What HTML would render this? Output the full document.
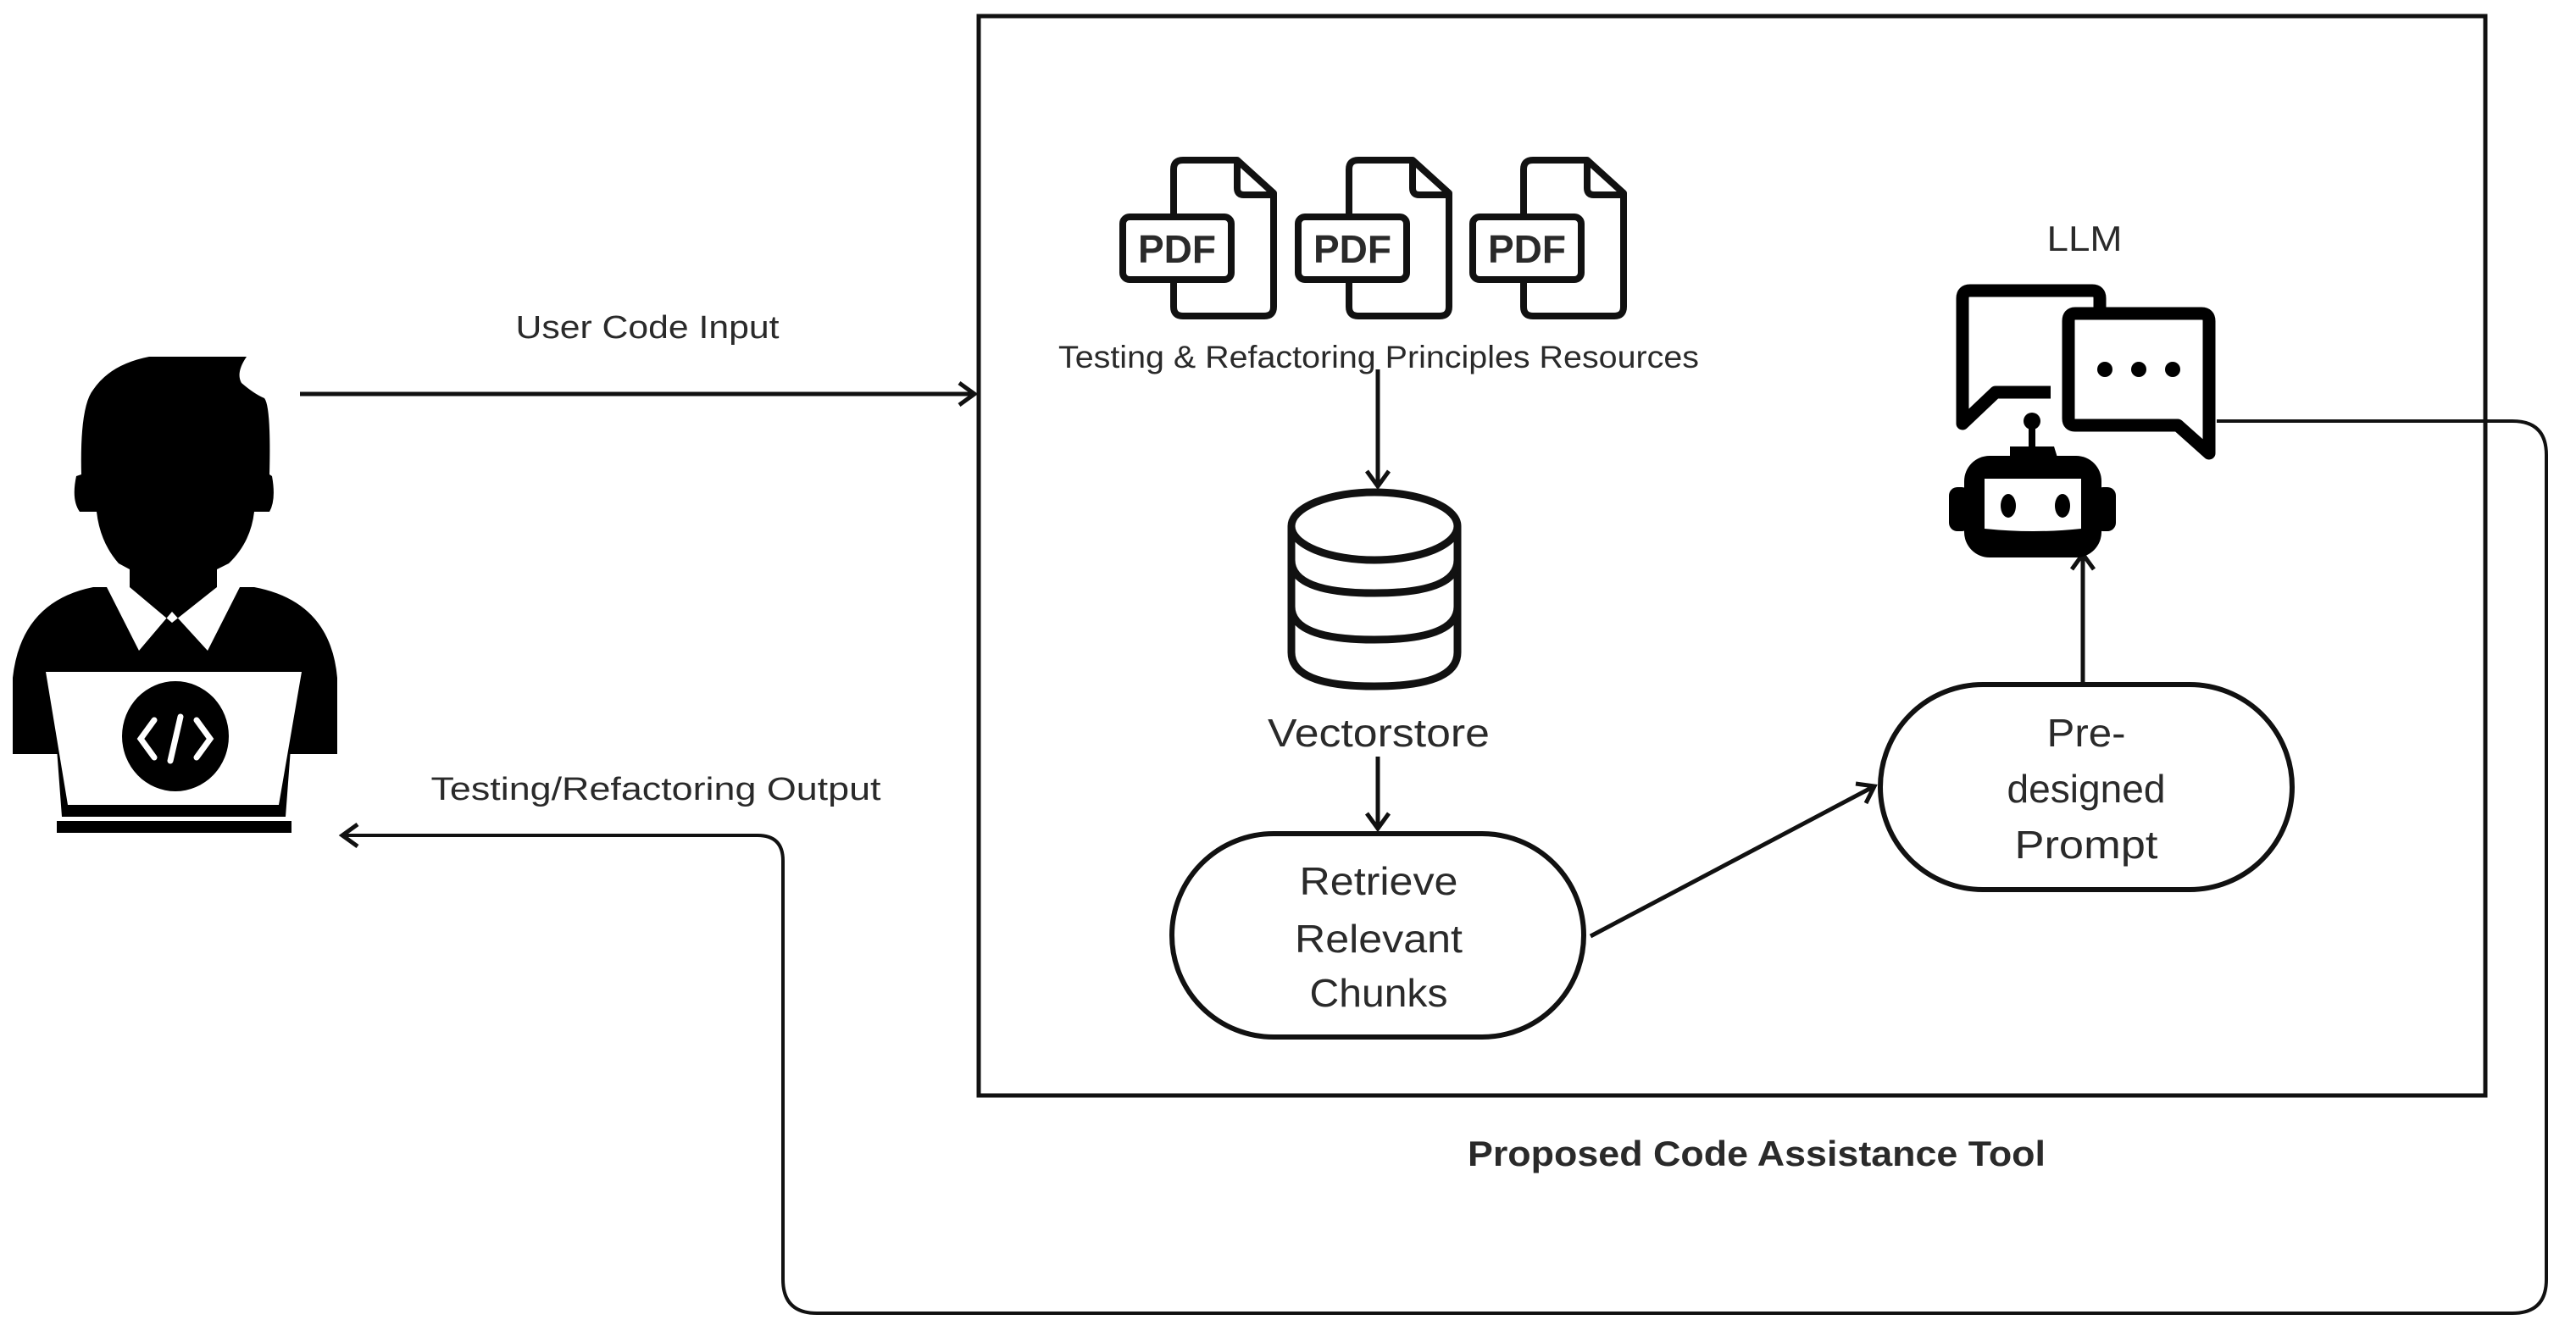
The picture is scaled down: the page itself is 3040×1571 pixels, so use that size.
<!DOCTYPE html>
<html><head><meta charset="utf-8"><style>
html,body{margin:0;padding:0;background:#fff;}
svg{display:block;}
text{font-family:"Liberation Sans",sans-serif;fill:#2a2a2a;}
</style></head><body>
<svg width="3040" height="1571" viewBox="0 0 3040 1571" xmlns="http://www.w3.org/2000/svg">
<rect x="1155" y="19" width="1778" height="1274" fill="none" stroke="#111" stroke-width="5"/>

<!-- person -->
<g fill="#000">
<path d="M176 421 L291 421 Q278 440 285 452 Q300 465 312 470 Q320 480 318 560 L321 562 Q326 590 318 604 L300 604 Q296 640 270 665 L256 672 L256 693 L153 693 L153 672 L140 665 Q118 640 114 604 L94 604 Q84 590 90 562 L96 560 Q94 480 110 460 Q130 430 176 421Z"/>
<path d="M110 693 L300 693 Q390 710 398 800 L398 890 L15 890 L15 800 Q25 710 110 693Z"/>
</g>
<path d="M126 693 L164 768 L203 722 L245 768 L283 693 L256 693 L203 735 L153 693Z" fill="#fff"/>
<path d="M60 790 L350 790 L337 964 L73 964Z" fill="#000"/>
<path d="M54 793 L356 793 L329 950 L80 950Z" fill="#fff"/>
<rect x="67" y="969" width="277" height="14" fill="#000"/>
<ellipse cx="207" cy="869" rx="63" ry="65" fill="#000"/>
<g stroke="#fff" stroke-width="7" fill="none" stroke-linecap="round">
<path d="M182 850 L166 872 L182 894"/><path d="M232 850 L248 872 L232 894"/><path d="M213 846 L201 898"/>
</g>

<text x="764" y="399" font-size="38" text-anchor="middle" textLength="311" lengthAdjust="spacingAndGlyphs">User Code Input</text>
<line x1="354" y1="465" x2="1148" y2="465" stroke="#111" stroke-width="5"/>
<path d="M1132 452 L1150 465 L1132 478" fill="none" stroke="#111" stroke-width="5"/>

<text x="774" y="944" font-size="38" text-anchor="middle" textLength="531" lengthAdjust="spacingAndGlyphs">Testing/Refactoring Output</text>
<path d="M2616 497 L2965 497 Q3005 497 3005 537 L3005 1510 Q3005 1550 2965 1550 L964 1550 Q924 1550 924 1510 L924 1016 Q924 986 894 986 L406 986" fill="none" stroke="#111" stroke-width="4"/>
<path d="M422 973 L404 986 L422 999" fill="none" stroke="#111" stroke-width="5"/>

<text x="2073" y="1376" font-size="42" font-weight="bold" text-anchor="middle" textLength="682" lengthAdjust="spacingAndGlyphs" fill="#111">Proposed Code Assistance Tool</text>

<g id="pdf" fill="none" stroke="#111" stroke-width="8" stroke-linejoin="round">
<path d="M1385 255 L1385 200 Q1385 189 1396 189 L1460 189 L1503 228 L1503 362 Q1503 373 1492 373 L1396 373 Q1385 373 1385 362 L1385 332"/>
<path d="M1460 189 L1460 222 Q1460 230 1468 230 L1503 230"/>
<rect x="1325" y="256" width="128" height="74" rx="8" fill="#fff"/>
<text x="1389" y="310" font-size="46" font-weight="bold" text-anchor="middle" stroke="none" fill="#111">PDF</text>
</g>
<use href="#pdf" x="207"/>
<use href="#pdf" x="413"/>

<text x="1627" y="434" font-size="37" text-anchor="middle" textLength="756" lengthAdjust="spacingAndGlyphs">Testing &amp; Refactoring Principles Resources</text>
<line x1="1626" y1="436" x2="1626" y2="572" stroke="#111" stroke-width="5"/>
<path d="M1613 556 L1626 574 L1639 556" fill="none" stroke="#111" stroke-width="5"/>

<g fill="none" stroke="#111" stroke-width="9">
<ellipse cx="1622" cy="621" rx="98" ry="40"/>
<path d="M1524 621 L1524 770 Q1524 810 1622 810 Q1720 810 1720 770 L1720 621"/>
<path d="M1524 661 Q1524 700 1622 700 Q1720 700 1720 661"/>
<path d="M1524 716 Q1524 755 1622 755 Q1720 755 1720 716"/>
</g>

<text x="1627" y="881" font-size="46" text-anchor="middle" textLength="262" lengthAdjust="spacingAndGlyphs">Vectorstore</text>
<line x1="1626" y1="893" x2="1626" y2="976" stroke="#111" stroke-width="5"/>
<path d="M1613 960 L1626 978 L1639 960" fill="none" stroke="#111" stroke-width="5"/>

<rect x="1383" y="984" width="486" height="240" rx="120" fill="none" stroke="#111" stroke-width="6"/>
<g font-size="46" text-anchor="middle">
<text x="1627" y="1056" textLength="187" lengthAdjust="spacingAndGlyphs">Retrieve</text>
<text x="1627" y="1124" textLength="198" lengthAdjust="spacingAndGlyphs">Relevant</text>
<text x="1627" y="1188" textLength="163" lengthAdjust="spacingAndGlyphs">Chunks</text>
</g>

<line x1="1877" y1="1105" x2="2210" y2="929" stroke="#111" stroke-width="5"/>
<path d="M2190 925 L2212 928 L2202 948" fill="none" stroke="#111" stroke-width="5"/>

<rect x="2219" y="808" width="486" height="242" rx="121" fill="none" stroke="#111" stroke-width="6"/>
<g font-size="46" text-anchor="middle">
<text x="2462" y="881" textLength="93" lengthAdjust="spacingAndGlyphs">Pre-</text>
<text x="2462" y="947" textLength="187" lengthAdjust="spacingAndGlyphs">designed</text>
<text x="2462" y="1013" textLength="169" lengthAdjust="spacingAndGlyphs">Prompt</text>
</g>
<line x1="2458" y1="806" x2="2458" y2="656" stroke="#111" stroke-width="5"/>
<path d="M2445 672 L2458 654 L2471 672" fill="none" stroke="#111" stroke-width="5"/>

<text x="2460" y="296" font-size="42" text-anchor="middle" textLength="89" lengthAdjust="spacingAndGlyphs">LLM</text>

<g fill="none" stroke="#000" stroke-width="15" stroke-linejoin="round">
<path d="M2478 368 L2478 352 Q2478 343 2469 343 L2325 343 Q2316 343 2316 352 L2316 500 L2355 463 L2420 463"/>
<path d="M2449 370 L2598 370 Q2607 370 2607 379 L2607 535 L2570 502 L2449 502 Q2441 502 2441 494 L2441 379 Q2441 370 2449 370Z"/>
</g>
<g fill="#000">
<circle cx="2484" cy="436" r="9"/><circle cx="2524" cy="436" r="9"/><circle cx="2564" cy="436" r="9"/>
<circle cx="2398" cy="497" r="10"/>
<rect x="2394" y="497" width="8" height="30"/>
<path d="M2372 527 L2424 527 L2428 540 L2372 540Z"/>
<rect x="2318" y="538" width="162" height="120" rx="30"/>
<rect x="2300" y="575" width="25" height="52" rx="10"/>
<rect x="2472" y="575" width="25" height="52" rx="10"/>
</g>
<path d="M2342 565 L2456 565 L2456 624 Q2400 630 2342 624Z" fill="#fff"/>
<ellipse cx="2370" cy="597" rx="9" ry="14" fill="#000"/>
<ellipse cx="2434" cy="597" rx="9" ry="14" fill="#000"/>
</svg>
</body></html>
